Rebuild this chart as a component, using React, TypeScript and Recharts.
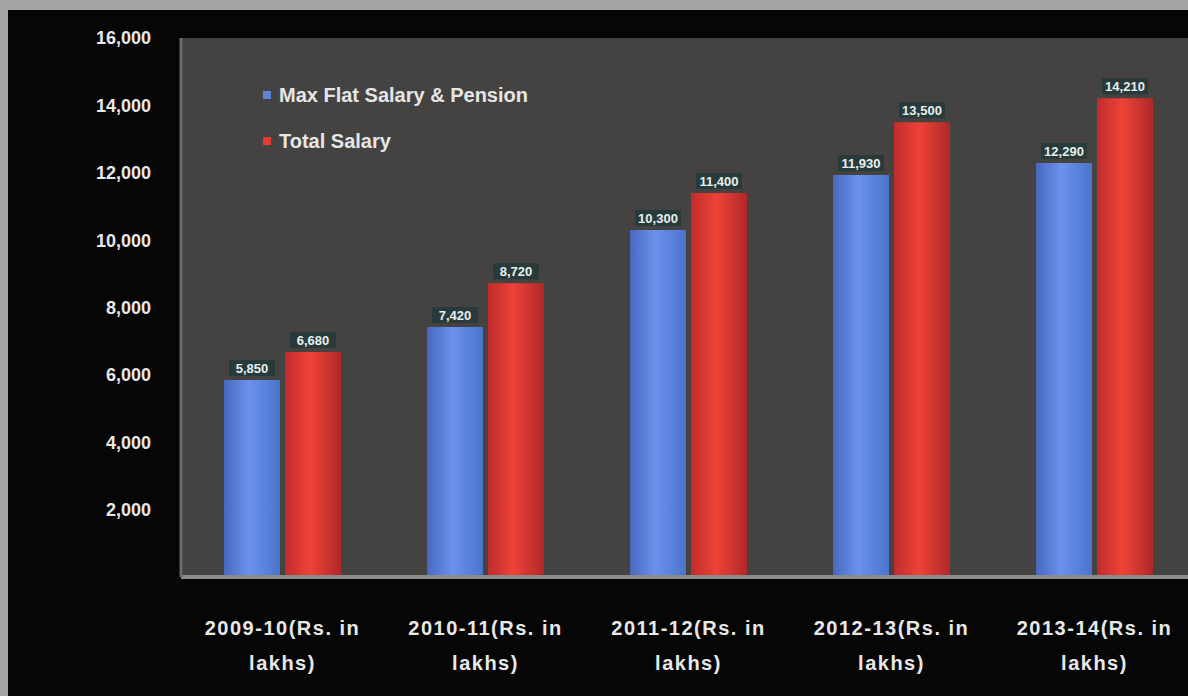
import { Bar, BarChart, CartesianGrid, LabelList, XAxis, YAxis } from "recharts";

const categories = [
  "2009-10(Rs. in|lakhs)",
  "2010-11(Rs. in|lakhs)",
  "2011-12(Rs. in|lakhs)",
  "2012-13(Rs. in|lakhs)",
  "2013-14(Rs. in|lakhs)",
];
const maxSalary = [5850, 7420, 10300, 11930, 12290];
const totalSalary = [6680, 8720, 11400, 13500, 14210];
const yTicks = [2000, 4000, 6000, 8000, 10000, 12000, 14000, 16000];

const SERIES = [
  { key: "max", name: "Max Flat Salary & Pension", color: "#5c84dc", grad: "gBlue" },
  { key: "total", name: "Total Salary", color: "#e23b35", grad: "gRed" },
];

const data = categories.map((c, i) => ({
  name: c,
  max: maxSalary[i],
  total: totalSalary[i],
}));

const FONT = "'Liberation Sans', Arial, sans-serif";
const fmt = (v: number) => v.toLocaleString("en-US");

function CategoryTick({ x, y, payload }: any) {
  const [a, b] = String(payload.value).split("|");
  return (
    <g transform={`translate(${x},${y})`}>
      <text textAnchor="middle" fill="#e8e8e8" fontFamily={FONT} fontWeight="bold" fontSize={20} letterSpacing={1.5}>
        <tspan x={0} dy={50}>{a}</tspan>
        <tspan x={0} dy={35}>{b}</tspan>
      </text>
    </g>
  );
}

function ValueLabel({ x, y, width, value }: any) {
  const cx = x + width / 2;
  const text = fmt(value);
  return (
    <g>
      <rect x={cx - 23} y={y - 20} width={46} height={16} fill="#24383a" opacity={0.85} />
      <text x={cx} y={y - 7} textAnchor="middle" fill="#e6f0ee" fontFamily={FONT} fontWeight="bold" fontSize={13}>
        {text}
      </text>
    </g>
  );
}

function LegendBox() {
  return (
    <div
      style={{
        position: "absolute",
        left: 255,
        top: 62,
        fontFamily: FONT,
        fontWeight: "bold",
        fontSize: 20,
        color: "#e6e6e6",
      }}
    >
      {SERIES.map((s) => (
        <div key={s.key} style={{ display: "flex", alignItems: "center", height: 46 }}>
          <span style={{ width: 8, height: 8, background: s.color, marginRight: 8, display: "inline-block" }} />
          {s.name}
        </div>
      ))}
    </div>
  );
}

export default function App() {
  return (
    <div style={{ position: "absolute", left: 0, top: 0, width: 1188, height: 696, background: "#a3a3a3", overflow: "hidden" }}>
      <div style={{ position: "absolute", left: 8, top: 10, width: 1180, height: 686, background: "#060606", overflow: "hidden" }}>
        <BarChart
          width={1200}
          height={686}
          data={data}
          margin={{ top: 28, right: 12, left: 0, bottom: 0 }}
          barGap={5}
          barSize={56}
        >
          <defs>
            <linearGradient id="gBlue" x1="0" y1="0" x2="1" y2="0">
              <stop offset="0%" stopColor="#4868c0" />
              <stop offset="45%" stopColor="#6b92ec" />
              <stop offset="100%" stopColor="#4a74cc" />
            </linearGradient>
            <linearGradient id="gRed" x1="0" y1="0" x2="1" y2="0">
              <stop offset="0%" stopColor="#c02c2c" />
              <stop offset="45%" stopColor="#ee4238" />
              <stop offset="100%" stopColor="#b02828" />
            </linearGradient>
          </defs>
          <CartesianGrid fill="#444342" horizontal={false} vertical={false} />
          <XAxis
            dataKey="name"
            height={119}
            interval={0}
            tick={<CategoryTick />}
            tickLine={false}
            axisLine={{ stroke: "#8a8a8a", strokeWidth: 4 }}
          />
          <YAxis
            width={173}
            domain={[0, 16000]}
            ticks={yTicks}
            tickFormatter={fmt}
            tickLine={false}
            tickMargin={24}
            axisLine={{ stroke: "#6a6a6a", strokeWidth: 3 }}
            tick={{ fill: "#e8e8e8", fontFamily: FONT, fontWeight: "bold", fontSize: 18 }}
          />
          {SERIES.map((s) => (
            <Bar key={s.key} dataKey={s.key} name={s.name} fill={`url(#${s.grad})`} isAnimationActive={false}>
              <LabelList dataKey={s.key} content={<ValueLabel />} />
            </Bar>
          ))}
        </BarChart>
        <LegendBox />
      </div>
    </div>
  );
}
